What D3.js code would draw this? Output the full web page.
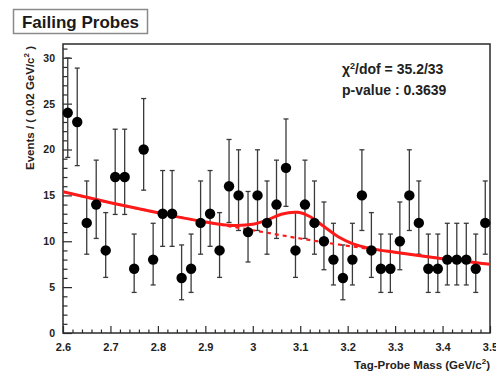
<!DOCTYPE html>
<html>
<head>
<meta charset="utf-8">
<script src="https://cdn.jsdelivr.net/npm/d3@7/dist/d3.min.js"></script>
<style>
  html, body { margin: 0; padding: 0; background: #fff; }
  svg { display: block; }
  text { font-family: "Liberation Sans", Arial, Helvetica, sans-serif; }
</style>
</head>
<body>
<svg id="chart" width="496" height="372"></svg>
<script>
// ---------------- data ----------------
const binCenters = [2.61, 2.63, 2.65, 2.67, 2.69, 2.71, 2.73, 2.75, 2.77, 2.79,
                    2.81, 2.83, 2.85, 2.87, 2.89, 2.91, 2.93, 2.95, 2.97, 2.99,
                    3.01, 3.03, 3.05, 3.07, 3.09, 3.11, 3.13, 3.15, 3.17, 3.19,
                    3.21, 3.23, 3.25, 3.27, 3.29, 3.31, 3.33, 3.35, 3.37, 3.39,
                    3.41, 3.43, 3.45, 3.47, 3.49];
const counts = [24, 23, 12, 14, 9, 17, 17, 7, 20, 8,
                13, 13, 6, 7, 12, 13, 9, 16, 15, 11,
                15, 12, 14, 18, 9, 14, 12, 10, 8, 6,
                8, 15, 9, 7, 7, 10, 15, 12, 7, 7,
                8, 8, 8, 7, 12];
// fit curves (signal+background, background only)
const fitMass  = [2.60, 2.70, 2.80, 2.90, 2.95, 3.00, 3.03, 3.06, 3.095, 3.12, 3.15, 3.18, 3.21, 3.25, 3.30, 3.40, 3.50];
const fitTotal = [15.4, 14.2, 13.1, 12.1, 11.75, 11.85, 12.3, 12.95, 13.15, 12.7, 11.6, 10.5, 9.75, 9.2, 8.8, 8.1, 7.5];
const bkgMass  = [2.60, 2.70, 2.80, 2.90, 3.00, 3.10, 3.20, 3.30, 3.40, 3.50];
const bkgVals  = [15.4, 14.2, 13.1, 12.1, 11.2, 10.3, 9.5, 8.8, 8.1, 7.5];
const xTickValues = [2.6, 2.7, 2.8, 2.9, 3.0, 3.1, 3.2, 3.3, 3.4, 3.5];
const xTickLabels = ["2.6", "2.7", "2.8", "2.9", "3", "3.1", "3.2", "3.3", "3.4", "3.5"];
const yTickValues = [0, 5, 10, 15, 20, 25, 30];
const yTickLabels = ["0", "5", "10", "15", "20", "25", "30"];
const titleText = "Failing Probes";
const xTitle = "Tag-Probe Mass (GeV/c";
const yTitle = "Events / ( 0.02 GeV/c";
const statLines = ["/dof = 35.2/33", "p-value : 0.3639"];

// Poisson (Gehrels 1-sigma) interval for a count
function poissonLow(n) {
  if (n <= 0) return 0;
  const t = 1 - 1 / (9 * n) - 1 / (3 * Math.sqrt(n));
  return n * t * t * t;
}
function poissonHigh(n) { return n + Math.sqrt(n + 0.75) + 1; }

// ---------------- layout ----------------
const svg = d3.select("#chart");
const pL = 63, pR = 490, pT = 44, pB = 333;
const x = d3.scaleLinear().domain([2.6, 3.5]).range([pL, pR]);
const y = d3.scaleLinear().domain([0, 31.5]).range([pB, pT]);

// title box
const tg = svg.append("g");
tg.append("rect").attr("x", 13.5).attr("y", 9.5).attr("width", 134).attr("height", 24)
  .attr("fill", "#fff").attr("stroke", "#8a8a8a").attr("stroke-width", 1.5);
tg.append("text").attr("x", 80.5).attr("y", 28).attr("text-anchor", "middle")
  .attr("font-size", 17).attr("font-weight", "bold").attr("fill", "#1a1a1a").text(titleText);

// frame
svg.append("rect").attr("x", pL).attr("y", pT).attr("width", pR - pL).attr("height", pB - pT)
  .attr("fill", "none").attr("stroke", "#2a2a2a").attr("stroke-width", 1.5);

// axes
const yMinor = d3.range(0, 32, 1).filter(v => v % 5 !== 0);
const xMinor = d3.range(0, 46, 1).map(i => +(2.6 + i * 0.02).toFixed(2)).filter(v => Math.abs(v * 10 - Math.round(v * 10)) > 1e-6);

const yAxis = d3.axisLeft(y).tickValues(yTickValues).tickSize(-9).tickPadding(8)
  .tickFormat((d, i) => yTickLabels[i]);
const yAxisMinor = d3.axisLeft(y).tickValues(yMinor).tickSize(-4.5).tickFormat("");
const xAxis = d3.axisBottom(x).tickValues(xTickValues).tickSize(-7).tickPadding(10)
  .tickFormat((d, i) => xTickLabels[i]);
const xAxisMinor = d3.axisBottom(x).tickValues(xMinor).tickSize(-3.5).tickFormat("");

function styleAxis(g) {
  g.select(".domain").remove();
  g.selectAll("line").attr("stroke", "#2a2a2a").attr("stroke-width", 1.2);
  g.selectAll("text").attr("font-family", "Liberation Sans, Arial, sans-serif")
    .attr("font-weight", "bold").attr("fill", "#222");
}
svg.append("g").attr("transform", `translate(${pL},0)`).call(yAxisMinor).call(styleAxis);
svg.append("g").attr("transform", `translate(${pL},0)`).call(yAxis).call(styleAxis)
  .selectAll("text").attr("font-size", 10.5);
svg.append("g").attr("transform", `translate(0,${pB})`).call(xAxisMinor).call(styleAxis);
svg.append("g").attr("transform", `translate(0,${pB})`).call(xAxis).call(styleAxis)
  .selectAll("text").attr("font-size", 11);

// axis titles
const xt = svg.append("text").attr("x", pR).attr("y", 369).attr("text-anchor", "end")
  .attr("font-size", 11.5).attr("font-weight", "bold").attr("fill", "#222");
xt.append("tspan").text(xTitle);
xt.append("tspan").attr("dy", -5).attr("font-size", 8).text("2");
xt.append("tspan").attr("dy", 5).text(")");

const yt = svg.append("text").attr("transform", `translate(34,${pT + 2}) rotate(-90)`)
  .attr("text-anchor", "end").attr("font-size", 11.5).attr("font-weight", "bold").attr("fill", "#222");
yt.append("tspan").text(yTitle);
yt.append("tspan").attr("dy", -5).attr("font-size", 8).text("2");
yt.append("tspan").attr("dy", 5).text(" )");

// clip for curves
svg.append("clipPath").attr("id", "plotclip").append("rect")
  .attr("x", pL).attr("y", pT).attr("width", pR - pL).attr("height", pB - pT);

// error bars
const pts = binCenters.map((m, i) => ({ m, n: counts[i] }));
const eb = svg.append("g").attr("clip-path", "url(#plotclip)");
eb.selectAll("line.v").data(pts).join("line").attr("class", "v")
  .attr("x1", d => x(d.m)).attr("x2", d => x(d.m))
  .attr("y1", d => y(poissonLow(d.n))).attr("y2", d => y(poissonHigh(d.n)))
  .attr("stroke", "#3a3a3a").attr("stroke-width", 1.3);
eb.selectAll("line.ct").data(pts).join("line").attr("class", "ct")
  .attr("x1", d => x(d.m) - 2.5).attr("x2", d => x(d.m) + 2.5)
  .attr("y1", d => y(poissonHigh(d.n))).attr("y2", d => y(poissonHigh(d.n)))
  .attr("stroke", "#3a3a3a").attr("stroke-width", 1.3);
eb.selectAll("line.cb").data(pts).join("line").attr("class", "cb")
  .attr("x1", d => x(d.m) - 2.5).attr("x2", d => x(d.m) + 2.5)
  .attr("y1", d => y(poissonLow(d.n))).attr("y2", d => y(poissonLow(d.n)))
  .attr("stroke", "#3a3a3a").attr("stroke-width", 1.3);

// curves
const cg = svg.append("g").attr("clip-path", "url(#plotclip)");
const bkgLine = d3.line().x(d => x(d[0])).y(d => y(d[1])).curve(d3.curveMonotoneX);
const totLine = d3.line().x(d => x(d[0])).y(d => y(d[1])).curve(d3.curveCatmullRom.alpha(0.5));
cg.append("path").datum(bkgMass.map((m, i) => [m, bkgVals[i]]))
  .attr("d", bkgLine).attr("fill", "none").attr("stroke", "#ff1a1a")
  .attr("stroke-width", 2.2).attr("stroke-dasharray", "4,4");
cg.append("path").datum(fitMass.map((m, i) => [m, fitTotal[i]]))
  .attr("d", totLine).attr("fill", "none").attr("stroke", "#ff1a1a").attr("stroke-width", 3);

// points
svg.append("g").selectAll("circle").data(pts).join("circle")
  .attr("cx", d => x(d.m)).attr("cy", d => y(d.n)).attr("r", 5.2).attr("fill", "#000");

// stat text
const st = svg.append("g").attr("font-weight", "bold").attr("fill", "#222").attr("font-size", 14);
const l1 = st.append("text").attr("x", 342).attr("y", 74);
l1.append("tspan").text("\u03C7");
l1.append("tspan").attr("dy", -5).attr("font-size", 9).text("2");
l1.append("tspan").attr("dy", 5).text(statLines[0]);
st.append("text").attr("x", 342).attr("y", 95).text(statLines[1]);
</script>
</body>
</html>
